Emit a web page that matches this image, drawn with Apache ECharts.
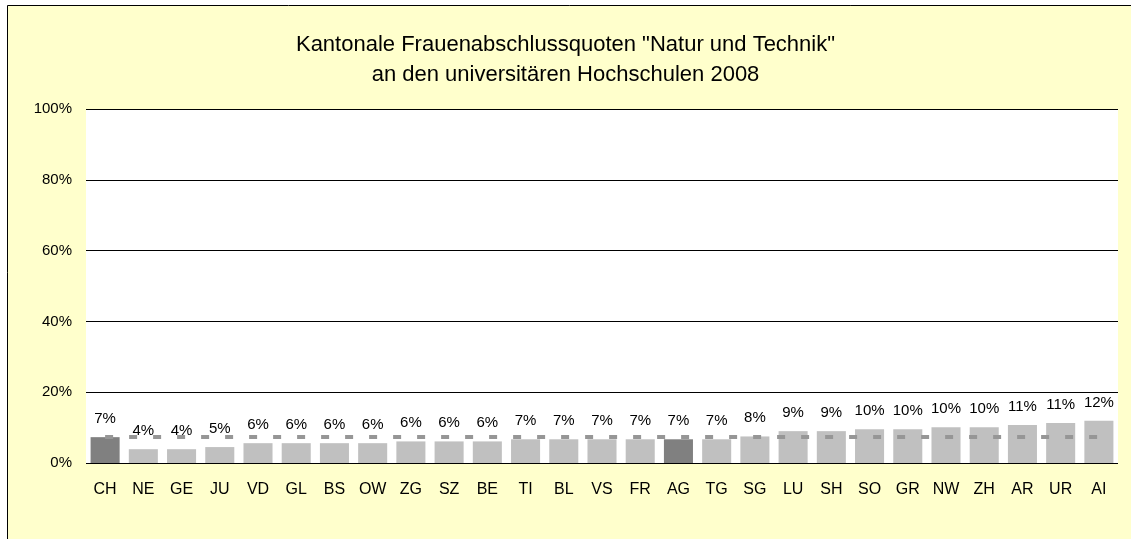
<!DOCTYPE html>
<html>
<head>
<meta charset="utf-8">
<script src="https://cdn.jsdelivr.net/npm/echarts@6/dist/echarts.min.js"></script>
<style>
html,body{margin:0;padding:0;background:#fff;}
#c{width:1131px;height:539px;}
</style>
</head>
<body>
<div id="c"></div>
<script>
const categories = ["CH","NE","GE","JU","VD","GL","BS","OW","ZG","SZ","BE","TI","BL","VS","FR","AG","TG","SG","LU","SH","SO","GR","NW","ZH","AR","UR","AI"];
const values = [7.3,3.9,3.9,4.5,5.6,5.6,5.6,5.6,6.1,6.1,6.1,6.7,6.7,6.7,6.7,6.7,6.7,7.5,9.0,9.0,9.5,9.5,10.1,10.1,10.7,11.3,11.9];
const highlighted = ["CH","AG"];
const referenceValue = 7.3;
const yTicks = [0,20,40,60,80,100];
const titleLines = ['Kantonale Frauenabschlussquoten "Natur und Technik"', 'an den universitären Hochschulen 2008'];

const chart = echarts.init(document.getElementById('c'), null, {renderer:'canvas'});
const font = '"Liberation Sans", Arial, sans-serif';
chart.setOption({
  animation:false,
  backgroundColor:'#ffffff',
  graphic:[{type:'rect', z:-100, silent:true,
    shape:{x:7.5,y:5.5,width:1300,height:700},
    style:{fill:'#FFFFCC', stroke:'#000', lineWidth:1}}],
  title:{text:titleLines.join('\n'), left:'center', top:25,
    textStyle:{fontFamily:font, fontSize:22, fontWeight:'normal', color:'#000', lineHeight:30}},
  grid:{left:86, right:13, top:109, bottom:76, show:true, backgroundColor:'#fff', borderWidth:0},
  xAxis:{type:'category', data:categories, axisLine:{show:false}, axisTick:{show:false},
    axisLabel:{fontFamily:font, fontSize:16, color:'#000', margin:19, interval:0}},
  yAxis:{type:'value', min:0, max:100, interval:20,
    axisLine:{show:false}, axisTick:{show:false},
    splitLine:{lineStyle:{color:'#000', width:1}},
    axisLabel:{fontFamily:font, fontSize:15, color:'#000', margin:14,
      formatter:v=> yTicks.includes(v) ? v+'%' : ''}},
  series:[{type:'bar', barCategoryGap:'24%',
    data:values.map((v,i)=>({value:v, itemStyle:{color: highlighted.includes(categories[i]) ? '#808080' : '#C0C0C0'}})),
    label:{show:true, position:'top', distance:11, fontFamily:font, fontSize:15, color:'#000',
      formatter:p=>Math.round(p.value)+'%'},
    markLine:{silent:true, symbol:'none', label:{show:false}, z:10,
      lineStyle:{color:'#969696', width:4, type:[8,16], cap:'butt'},
      data:[[{coord:[categories[0], referenceValue]},{coord:[categories[categories.length-1], referenceValue]}]]}
  }]
});
</script>
</body>
</html>
